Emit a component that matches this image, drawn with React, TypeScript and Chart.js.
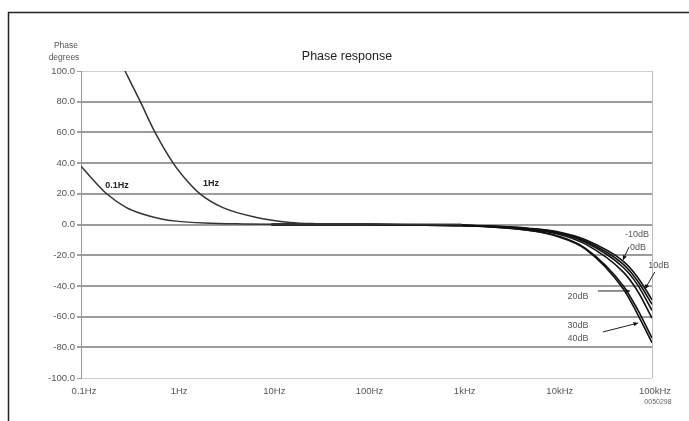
import { useEffect, useRef } from 'react';
import { Chart, registerables } from 'chart.js';

Chart.register(...registerables);

// ---- data ----
const xTickValues = [0.1, 1, 10, 100, 1000, 10000, 100000];
const xTickLabels = ['0.1Hz', '1Hz', '10Hz', '100Hz', '1kHz', '10kHz', '100kHz'];

// low-frequency corner curves
const freq01Hz = [0.1, 0.13, 0.186, 0.3, 0.434, 0.7, 1, 2, 5, 10, 100, 1000];
const phase01Hz = [38, 30, 20, 11, 7, 3.6, 2.2, 1, 0.4, 0.2, 0, 0];

const freq1Hz = [0.29, 0.42, 0.6, 0.93, 1.3, 1.78, 3.1, 7, 15.7, 30, 100, 1000];
const phase1Hz = [100, 80, 60, 40, 28.5, 20, 11, 4.6, 1.3, 0.5, 0.1, 0];

// high-frequency family (gain settings)
const freqHF = [10, 100, 300, 1000, 2000, 5000, 10000, 20000, 50000, 70000, 100000];
const phaseM10dB = [0, 0, -0.2, -0.5, -1.0, -2.4, -4.6, -10.0, -24.0, -34.0, -49];
const phase0dB = [0, 0, -0.2, -0.5, -1.1, -2.6, -5.0, -10.8, -26.0, -36.5, -52];
const phase10dB = [0, 0, -0.2, -0.6, -1.2, -2.8, -5.4, -11.6, -28.0, -39.0, -56];
const phase20dB = [0, 0, -0.2, -0.6, -1.3, -3.1, -6.0, -12.8, -31.0, -43.0, -61];
const phase30dB = [0, 0, -0.3, -0.7, -1.5, -3.7, -7.3, -15.5, -40.0, -55.0, -74];
const phase40dB = [0, 0, -0.3, -0.8, -1.6, -3.8, -7.6, -16.0, -42.0, -58.0, -77];

// curve labels, anchored in data space: [text, freq, phase, bold]
const curveLabels: [string, number, number, boolean][] = [
  ['0.1Hz', 0.239, 25.7, true],
  ['1Hz', 2.32, 26.4, true],
  ['-10dB', 69500, -6.8, false],
  ['0dB', 71300, -14.7, false],
  ['10dB', 118000, -26.4, false],
  ['20dB', 16700, -47.2, false],
  ['30dB', 16700, -65.5, false],
  ['40dB', 16700, -74.6, false],
];
// arrows [fromFreq, fromPhase, toFreq, toPhase]
const arrows: [number, number, number, number][] = [
  [57300, -14.7, 49500, -23.1],
  [107000, -30.9, 84400, -42.0],
  [27100, -43.3, 58700, -43.3],
  [30500, -70.0, 71300, -64.2],
];

const FONT = '"Liberation Sans", Arial, sans-serif';

const pts = (xs: number[], ys: number[]) => xs.map((x, i) => ({ x, y: ys[i] }));

const annotate = {
  id: 'annotate',
  beforeDraw(chart: any) {
    const c = chart.ctx;
    c.save();
    c.fillStyle = '#ffffff';
    c.fillRect(0, 0, chart.width, chart.height);
    c.restore();
  },
  afterDraw(chart: any) {
    const c: CanvasRenderingContext2D = chart.ctx;
    const xs = chart.scales.x;
    const ys = chart.scales.y;
    const area = chart.chartArea;
    c.save();
    // outer frame (cropped box)
    c.strokeStyle = '#222';
    c.lineWidth = 1.5;
    c.beginPath();
    c.moveTo(8.5, chart.height);
    c.lineTo(8.5, 12.5);
    c.lineTo(chart.width, 12.5);
    c.stroke();

    // title
    c.fillStyle = '#222';
    c.textAlign = 'center';
    c.textBaseline = 'middle';
    c.font = `12.5px ${FONT}`;
    c.fillText('Phase response', 347, area.top - 14);

    // y axis title
    c.fillStyle = '#555';
    c.font = `8.5px ${FONT}`;
    c.fillText('Phase', 66, area.top - 25);
    c.fillText('degrees', 64, area.top - 13);

    // curve labels
    for (const [t, f, p, b] of curveLabels) {
      c.font = `${b ? 'bold ' : ''}9px ${FONT}`;
      c.fillStyle = b ? '#222' : '#555';
      c.fillText(t, xs.getPixelForValue(f), ys.getPixelForValue(p));
    }

    // arrows
    c.strokeStyle = '#222';
    c.fillStyle = '#111';
    c.lineWidth = 1;
    for (const [f1, p1, f2, p2] of arrows) {
      const x1 = xs.getPixelForValue(f1);
      const y1 = ys.getPixelForValue(p1);
      const x2 = xs.getPixelForValue(f2);
      const y2 = ys.getPixelForValue(p2);
      c.beginPath();
      c.moveTo(x1, y1);
      c.lineTo(x2, y2);
      c.stroke();
      const a = Math.atan2(y2 - y1, x2 - x1);
      const L = 5;
      c.beginPath();
      c.moveTo(x2, y2);
      c.lineTo(x2 - L * Math.cos(a - 0.45), y2 - L * Math.sin(a - 0.45));
      c.lineTo(x2 - L * Math.cos(a + 0.45), y2 - L * Math.sin(a + 0.45));
      c.closePath();
      c.fill();
    }

    // footnote code
    c.fillStyle = '#666';
    c.font = `7px ${FONT}`;
    c.fillText('0050298', 658, 402);
    c.restore();
  },
};

export default function App() {
  const ref = useRef<HTMLCanvasElement | null>(null);
  useEffect(() => {
    if (!ref.current) return;
    const common = { pointRadius: 0, cubicInterpolationMode: 'monotone' as const, fill: false };
    const chart = new Chart(ref.current, {
      type: 'line',
      data: {
        datasets: [
          { label: '0.1Hz', data: pts(freq01Hz, phase01Hz), borderColor: '#333', borderWidth: 1.5, ...common },
          { label: '1Hz', data: pts(freq1Hz, phase1Hz), borderColor: '#333', borderWidth: 1.5, ...common },
          { label: '-10dB', data: pts(freqHF, phaseM10dB), borderColor: '#111', borderWidth: 1.6, ...common },
          { label: '0dB', data: pts(freqHF, phase0dB), borderColor: '#111', borderWidth: 1.6, ...common },
          { label: '10dB', data: pts(freqHF, phase10dB), borderColor: '#111', borderWidth: 1.6, ...common },
          { label: '20dB', data: pts(freqHF, phase20dB), borderColor: '#111', borderWidth: 1.6, ...common },
          { label: '30dB', data: pts(freqHF, phase30dB), borderColor: '#111', borderWidth: 1.6, ...common },
          { label: '40dB', data: pts(freqHF, phase40dB), borderColor: '#111', borderWidth: 1.6, ...common },
        ],
      },
      options: {
        animation: false,
        responsive: false,
        events: [],
        layout: { padding: { left: 0, right: 37, top: 71, bottom: 0 } },
        plugins: { legend: { display: false }, tooltip: { enabled: false }, title: { display: false } },
        scales: {
          x: {
            type: 'logarithmic',
            min: 0.1,
            max: 100000,
            afterBuildTicks: (s: any) => {
              s.ticks = xTickValues.map((v) => ({ value: v }));
            },
            afterFit: (s: any) => {
              s.height = 43;
            },
            ticks: {
              autoSkip: false,
              maxRotation: 0,
              padding: 8,
              labelOffset: 3,
              color: '#555',
              font: { family: FONT, size: 9.5 },
              callback: (_v: any, i: number) => xTickLabels[i],
            },
            grid: {
              drawTicks: false,
              color: (ctx: any) => (ctx.index === xTickValues.length - 1 ? '#b8b8b8' : 'rgba(0,0,0,0)'),
              lineWidth: 1,
            },
            border: { display: false },
          },
          y: {
            min: -100,
            max: 100,
            afterFit: (s: any) => {
              s.width = 81;
            },
            ticks: {
              stepSize: 20,
              padding: 2,
              color: '#555',
              font: { family: FONT, size: 9.5 },
              callback: (v: any) => Number(v).toFixed(1),
            },
            grid: {
              tickLength: 4,
              color: (ctx: any) => {
                const v = ctx.tick ? ctx.tick.value : 0;
                return Math.abs(v) === 100 ? '#cfcfcf' : '#9c9c9c';
              },
              tickColor: '#a0a0a0',
              lineWidth: (ctx: any) => {
                const v = ctx.tick ? ctx.tick.value : 0;
                return Math.abs(v) === 100 ? 1 : 2;
              },
            },
            border: { display: true, color: '#999', width: 1 },
          },
        },
      },
      plugins: [annotate],
    });
    return () => chart.destroy();
  }, []);
  return (
    <div style={{ position: 'fixed', left: 0, top: 0, width: 689, height: 421 }}>
      <canvas ref={ref} width={689} height={421} style={{ width: 689, height: 421, display: 'block' }} />
    </div>
  );
}
